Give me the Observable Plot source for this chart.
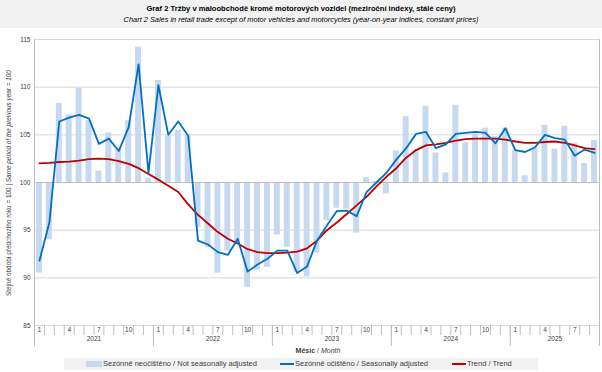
<!DOCTYPE html>
<html><head><meta charset="utf-8">
<script src="https://cdn.jsdelivr.net/npm/d3@7"></script>
<script src="https://cdn.jsdelivr.net/npm/@observablehq/plot@0.6"></script>
<style>
body{margin:0;background:#fff;font-family:"Liberation Sans",Arial,sans-serif;}
#wrap{position:relative;width:602px;height:372px;overflow:hidden;background:#fff}
#hdr{position:absolute;left:0;top:0;width:602px;height:28px;background:#f2f2f2;text-align:center;color:#000}
#t1{position:absolute;top:4px;width:100%;font-weight:bold;font-size:7.6px;line-height:9px}
#t2{position:absolute;top:15px;width:100%;font-style:italic;font-size:7.4px;line-height:9px}
#chart{position:absolute;left:0;top:28px}
#ytitle{position:absolute;left:8px;top:183px;transform:translate(-50%,-50%) rotate(-90deg);white-space:nowrap;font-size:6.4px;color:#404040}
#xtitle{position:absolute;left:318px;top:347px;transform:translateX(-50%);white-space:nowrap;font-size:7px;color:#404040}
#legend{position:absolute;left:64px;top:358px;width:474px;height:12px;background:#f2f2f2;font-size:7.5px;color:#404040}
.li{position:absolute;top:0;height:12px;line-height:12px;white-space:nowrap}
.sw{position:absolute}
</style></head>
<body>
<div id="wrap">
  <div id="hdr">
    <div id="t1">Graf 2 Tržby v maloobchodě kromě motorových vozidel (meziroční indexy, stálé ceny)</div>
    <div id="t2">Chart 2 Sales in retail trade except of motor vehicles and motorcycles (year-on-year indices, constant prices)</div>
  </div>
  <div id="chart"></div>
  <div id="ytitle">Stejné období předchozího roku = 100 | <i>Same period of the previous year = 100</i></div>
  <div id="xtitle"><b>Měsíc</b> / <i>Month</i></div>
  <div id="legend">
    <div class="sw" style="left:22px;top:3px;width:16px;height:6px;background:#c6d9f1"></div>
    <div class="li" style="left:39px">Sezónně neočištěno / Not seasonally adjusted</div>
    <div class="sw" style="left:216px;top:5px;width:14px;height:2px;background:#0070c0"></div>
    <div class="li" style="left:231px">Sezónně očištěno / Seasonally adjusted</div>
    <div class="sw" style="left:388px;top:5px;width:14px;height:2px;background:#c00000"></div>
    <div class="li" style="left:403px">Trend / Trend</div>
  </div>
</div>
<script>
const years = [2021, 2022, 2023, 2024, 2025];
const monthsInYear = [12, 12, 12, 12, 9];
const monthTickLabels = [1, 4, 7, 10];
const yTicks = [85, 90, 95, 100, 105, 110, 115];

// Sezónně neočištěno / Not seasonally adjusted (bars)
const notAdjusted = [
  90.5, 94.0, 108.3, 107.1, 109.9, 106.5, 101.2, 105.2, 103.5, 106.5, 114.2, 100.4,
  110.7, 104.9, 105.5, 105.0, 95.3, 93.2, 90.5, 92.8, 93.6, 89.0, 90.8, 91.1,
  94.5, 93.2, 90.6, 90.1, 92.6, 96.0, 97.3, 97.2, 94.7, 100.5, 100.1, 98.8,
  103.3, 106.9, 103.4, 108.0, 103.1, 101.0, 108.1, 104.2, 105.1, 105.7, 104.8, 105.7,
  103.4, 100.7, 103.6, 106.0, 103.5, 105.9, 104.1, 102.0, 104.4
];
// Sezónně očištěno / Seasonally adjusted
const adjusted = [
  91.8, 95.8, 106.4, 106.8, 107.1, 106.7, 104.05, 104.6, 103.3, 105.8, 112.4, 101.0,
  110.2, 105.0, 106.4, 104.9, 93.9, 93.5, 92.7, 92.4, 94.1, 90.65, 91.4, 92.0,
  92.85, 92.85, 90.5, 91.2, 93.9, 95.5, 97.0, 97.05, 96.45, 99.0, 100.0, 101.0,
  102.4, 103.6, 105.1, 105.3, 103.6, 104.0, 105.1, 105.2, 105.3, 105.2, 104.1, 105.7,
  103.4, 103.2, 103.7, 105.0, 104.65, 104.5, 102.8, 103.45, 103.1
];
// Trend / Trend
const trend = [
  102.0, 102.05, 102.15, 102.2, 102.3, 102.45, 102.5, 102.45, 102.25, 101.95, 101.5, 100.9,
  100.3, 99.65, 99.0, 97.7, 96.6, 95.7, 94.8, 94.1, 93.6, 93.0, 92.7, 92.6,
  92.6, 92.65, 92.75, 93.1, 93.9, 95.0, 95.8, 96.7, 97.6, 98.5, 99.6, 100.6,
  101.5, 102.6, 103.4, 103.9, 104.0, 104.15, 104.4, 104.55, 104.6, 104.6, 104.6, 104.5,
  104.3, 104.15, 104.15, 104.25, 104.3, 104.15, 103.9, 103.6, 103.5
];

// build month table
const rows = [];
years.forEach((yr, yi) => {
  for (let m = 1; m <= monthsInYear[yi]; m++) {
    const i = rows.length;
    rows.push({i, year: yr, month: m, nsa: notAdjusted[i], sa: adjusted[i], trend: trend[i]});
  }
});
const n = rows.length;
const barHalf = 0.3;
const monthSeps = d3.range(n + 1).map(k => k - 0.5);
const yearSeps = [];
const yearCenters = [];
{
  let start = 0;
  monthsInYear.forEach((c, yi) => {
    yearSeps.push(start - 0.5);
    yearCenters.push({pos: start + (c - 1) / 2, label: years[yi]});
    start += c;
  });
  yearSeps.push(start - 0.5);
}
const labelRows = rows.filter(r => monthTickLabels.includes(r.month));
const labelMap = new Map(labelRows.map(r => [r.i, String(r.month)]));
const yearMap = new Map(yearCenters.map(d => [d.pos, String(d.label)]));

const gridColor = "#d9d9d9";
const axisColor = "#bfbfbf";

const chart = Plot.plot({
  width: 602,
  height: 328,
  marginLeft: 34,
  marginRight: 3,
  marginTop: 11,
  marginBottom: 31,
  style: {fontFamily: "'Liberation Sans', Arial, sans-serif", fontSize: "6.5px", background: "transparent", overflow: "visible"},
  x: {type: "linear", domain: [-0.5, n - 0.5], axis: null, label: null},
  y: {domain: [85, 115], axis: null, label: null},
  marks: [
    Plot.gridY(yTicks, {stroke: gridColor, strokeOpacity: 1}),
    Plot.axisY({ticks: yTicks, tickSize: 0, tickPadding: 4, color: "#404040", fontSize: 6.5, label: null}),
    Plot.rectY(rows, {x1: d => d.i - barHalf, x2: d => d.i + barHalf, y1: 100, y2: "nsa", fill: "#c6d9f1"}),
    Plot.ruleY([100], {stroke: axisColor}),
    Plot.ruleX([-0.5, n - 0.5], {stroke: axisColor}),
    Plot.axisX({ticks: monthSeps, tickSize: 10, tickFormat: () => "", stroke: axisColor, label: null}),
    Plot.axisX({ticks: yearSeps, tickSize: 21, tickFormat: () => "", stroke: axisColor, label: null}),
    Plot.axisX({ticks: labelRows.map(r => r.i), tickSize: 0, tickPadding: 1.5, tickFormat: d => labelMap.get(d), color: "#404040", fontSize: 6.5, label: null}),
    Plot.axisX({ticks: yearCenters.map(d => d.pos), tickSize: 0, tickPadding: 10.5, tickFormat: d => yearMap.get(d), color: "#404040", fontSize: 6.5, label: null}),
    Plot.line(rows, {x: "i", y: "trend", stroke: "#c00000", strokeWidth: 1.8}),
    Plot.line(rows, {x: "i", y: "sa", stroke: "#0070c0", strokeWidth: 1.8})
  ]
});
document.getElementById("chart").appendChild(chart);
</script>
</body></html>
